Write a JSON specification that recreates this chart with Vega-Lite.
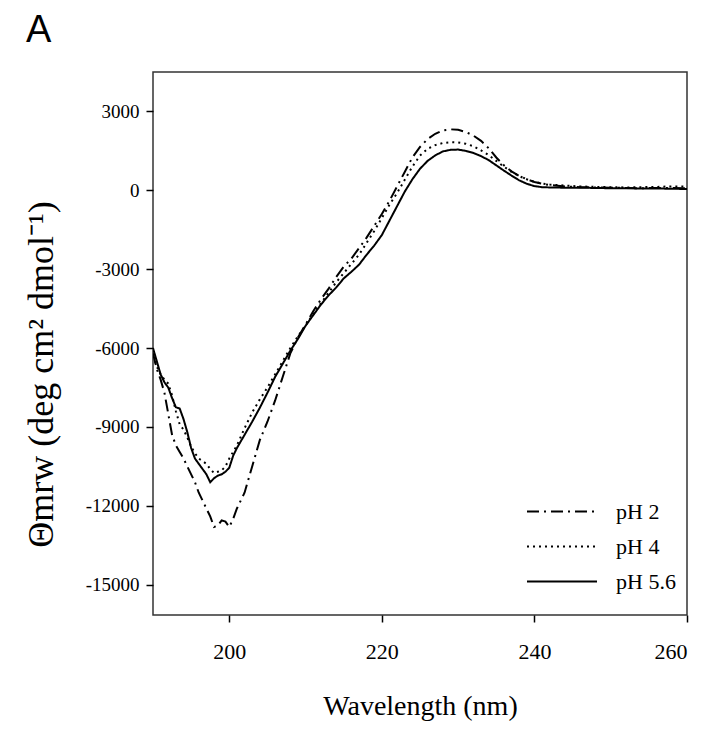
{
  "$schema": "https://vega.github.io/schema/vega-lite/v6.json",
  "autosize": {"type": "none"},
  "padding": {"left": 153, "top": 72, "right": 22, "bottom": 119},
  "width": 534,
  "height": 543,
  "background": "white",
  "title": {"text": "A", "anchor": "start", "frame": "group", "dx": -127, "offset": 22, "font": "Liberation Sans", "fontSize": 38, "fontWeight": "normal", "color": "black"},
  "config": {
    "view": {"stroke": "#333", "strokeWidth": 1.5},
    "axis": {"grid": false, "domain": false, "tickColor": "black", "tickSize": 7, "tickWidth": 1.5, "labelFont": "Liberation Serif", "labelColor": "black", "titleFont": "Liberation Serif", "titleColor": "black", "titleFontWeight": "normal"}
  },
  "datasets": {
    "cd": [
      {"wl":190,"pH":"pH 5.6","v":-6000},{"wl":190.5,"pH":"pH 5.6","v":-6500},{"wl":191,"pH":"pH 5.6","v":-7000},{"wl":191.5,"pH":"pH 5.6","v":-7300},{"wl":192,"pH":"pH 5.6","v":-7500},{"wl":192.5,"pH":"pH 5.6","v":-7900},{"wl":193,"pH":"pH 5.6","v":-8250},{"wl":193.5,"pH":"pH 5.6","v":-8300},{"wl":194,"pH":"pH 5.6","v":-8700},{"wl":194.5,"pH":"pH 5.6","v":-9200},{"wl":195,"pH":"pH 5.6","v":-9800},{"wl":195.5,"pH":"pH 5.6","v":-10200},{"wl":196,"pH":"pH 5.6","v":-10400},{"wl":196.5,"pH":"pH 5.6","v":-10600},{"wl":197,"pH":"pH 5.6","v":-10800},{"wl":197.5,"pH":"pH 5.6","v":-11100},{"wl":198,"pH":"pH 5.6","v":-10950},{"wl":198.5,"pH":"pH 5.6","v":-10850},{"wl":199,"pH":"pH 5.6","v":-10800},{"wl":199.5,"pH":"pH 5.6","v":-10700},{"wl":200,"pH":"pH 5.6","v":-10550},{"wl":200.5,"pH":"pH 5.6","v":-10100},{"wl":201,"pH":"pH 5.6","v":-9800},{"wl":202,"pH":"pH 5.6","v":-9300},{"wl":203,"pH":"pH 5.6","v":-8800},{"wl":204,"pH":"pH 5.6","v":-8270},{"wl":205,"pH":"pH 5.6","v":-7700},{"wl":206,"pH":"pH 5.6","v":-7100},{"wl":207,"pH":"pH 5.6","v":-6600},{"wl":208,"pH":"pH 5.6","v":-6100},{"wl":209,"pH":"pH 5.6","v":-5650},{"wl":210,"pH":"pH 5.6","v":-5150},{"wl":211,"pH":"pH 5.6","v":-4750},{"wl":212,"pH":"pH 5.6","v":-4350},{"wl":213,"pH":"pH 5.6","v":-4000},{"wl":214,"pH":"pH 5.6","v":-3700},{"wl":215,"pH":"pH 5.6","v":-3350},{"wl":216,"pH":"pH 5.6","v":-3100},{"wl":217,"pH":"pH 5.6","v":-2830},{"wl":218,"pH":"pH 5.6","v":-2450},{"wl":219,"pH":"pH 5.6","v":-2100},{"wl":220,"pH":"pH 5.6","v":-1700},{"wl":221,"pH":"pH 5.6","v":-1150},{"wl":222,"pH":"pH 5.6","v":-600},{"wl":223,"pH":"pH 5.6","v":-50},{"wl":224,"pH":"pH 5.6","v":420},{"wl":225,"pH":"pH 5.6","v":820},{"wl":226,"pH":"pH 5.6","v":1120},{"wl":227,"pH":"pH 5.6","v":1330},{"wl":228,"pH":"pH 5.6","v":1480},{"wl":229,"pH":"pH 5.6","v":1540},{"wl":230,"pH":"pH 5.6","v":1550},{"wl":231,"pH":"pH 5.6","v":1500},{"wl":232,"pH":"pH 5.6","v":1420},{"wl":233,"pH":"pH 5.6","v":1300},{"wl":234,"pH":"pH 5.6","v":1150},{"wl":235,"pH":"pH 5.6","v":950},{"wl":236,"pH":"pH 5.6","v":750},{"wl":237,"pH":"pH 5.6","v":560},{"wl":238,"pH":"pH 5.6","v":380},{"wl":239,"pH":"pH 5.6","v":250},{"wl":240,"pH":"pH 5.6","v":160},{"wl":241,"pH":"pH 5.6","v":120},{"wl":242,"pH":"pH 5.6","v":110},{"wl":244,"pH":"pH 5.6","v":100},{"wl":246,"pH":"pH 5.6","v":100},{"wl":248,"pH":"pH 5.6","v":90},{"wl":250,"pH":"pH 5.6","v":80},{"wl":252,"pH":"pH 5.6","v":80},{"wl":254,"pH":"pH 5.6","v":70},{"wl":256,"pH":"pH 5.6","v":70},{"wl":258,"pH":"pH 5.6","v":60},{"wl":260,"pH":"pH 5.6","v":50},

      {"wl":190,"pH":"pH 4","v":-6300},{"wl":190.5,"pH":"pH 4","v":-6700},{"wl":191,"pH":"pH 4","v":-7000},{"wl":191.5,"pH":"pH 4","v":-7200},{"wl":192,"pH":"pH 4","v":-7350},{"wl":192.5,"pH":"pH 4","v":-7800},{"wl":193,"pH":"pH 4","v":-8400},{"wl":193.5,"pH":"pH 4","v":-8900},{"wl":194,"pH":"pH 4","v":-9100},{"wl":194.5,"pH":"pH 4","v":-9400},{"wl":195,"pH":"pH 4","v":-9750},{"wl":195.5,"pH":"pH 4","v":-10000},{"wl":196,"pH":"pH 4","v":-10200},{"wl":196.5,"pH":"pH 4","v":-10300},{"wl":197,"pH":"pH 4","v":-10400},{"wl":197.5,"pH":"pH 4","v":-10600},{"wl":198,"pH":"pH 4","v":-10750},{"wl":198.5,"pH":"pH 4","v":-10700},{"wl":199,"pH":"pH 4","v":-10650},{"wl":199.5,"pH":"pH 4","v":-10500},{"wl":200,"pH":"pH 4","v":-10200},{"wl":201,"pH":"pH 4","v":-9700},{"wl":202,"pH":"pH 4","v":-9050},{"wl":203,"pH":"pH 4","v":-8450},{"wl":204,"pH":"pH 4","v":-7950},{"wl":205,"pH":"pH 4","v":-7500},{"wl":206,"pH":"pH 4","v":-7000},{"wl":207,"pH":"pH 4","v":-6500},{"wl":208,"pH":"pH 4","v":-6000},{"wl":209,"pH":"pH 4","v":-5550},{"wl":210,"pH":"pH 4","v":-5150},{"wl":211,"pH":"pH 4","v":-4700},{"wl":212,"pH":"pH 4","v":-4300},{"wl":213,"pH":"pH 4","v":-3900},{"wl":214,"pH":"pH 4","v":-3500},{"wl":215,"pH":"pH 4","v":-3150},{"wl":216,"pH":"pH 4","v":-2800},{"wl":217,"pH":"pH 4","v":-2450},{"wl":218,"pH":"pH 4","v":-2000},{"wl":219,"pH":"pH 4","v":-1550},{"wl":220,"pH":"pH 4","v":-1050},{"wl":221,"pH":"pH 4","v":-550},{"wl":222,"pH":"pH 4","v":-100},{"wl":223,"pH":"pH 4","v":400},{"wl":224,"pH":"pH 4","v":900},{"wl":225,"pH":"pH 4","v":1320},{"wl":226,"pH":"pH 4","v":1580},{"wl":227,"pH":"pH 4","v":1720},{"wl":228,"pH":"pH 4","v":1800},{"wl":229,"pH":"pH 4","v":1830},{"wl":230,"pH":"pH 4","v":1820},{"wl":231,"pH":"pH 4","v":1770},{"wl":232,"pH":"pH 4","v":1680},{"wl":233,"pH":"pH 4","v":1520},{"wl":234,"pH":"pH 4","v":1340},{"wl":235,"pH":"pH 4","v":1120},{"wl":236,"pH":"pH 4","v":900},{"wl":237,"pH":"pH 4","v":700},{"wl":238,"pH":"pH 4","v":540},{"wl":239,"pH":"pH 4","v":420},{"wl":240,"pH":"pH 4","v":320},{"wl":241,"pH":"pH 4","v":260},{"wl":242,"pH":"pH 4","v":220},{"wl":244,"pH":"pH 4","v":180},{"wl":246,"pH":"pH 4","v":150},{"wl":248,"pH":"pH 4","v":130},{"wl":250,"pH":"pH 4","v":120},{"wl":252,"pH":"pH 4","v":110},{"wl":254,"pH":"pH 4","v":120},{"wl":256,"pH":"pH 4","v":130},{"wl":258,"pH":"pH 4","v":150},{"wl":260,"pH":"pH 4","v":140},

      {"wl":190,"pH":"pH 2","v":-6200},{"wl":190.5,"pH":"pH 2","v":-6800},{"wl":191,"pH":"pH 2","v":-7200},{"wl":191.5,"pH":"pH 2","v":-7700},{"wl":192,"pH":"pH 2","v":-8500},{"wl":192.5,"pH":"pH 2","v":-9300},{"wl":193,"pH":"pH 2","v":-9700},{"wl":193.5,"pH":"pH 2","v":-9950},{"wl":194,"pH":"pH 2","v":-10200},{"wl":194.5,"pH":"pH 2","v":-10500},{"wl":195,"pH":"pH 2","v":-10800},{"wl":195.5,"pH":"pH 2","v":-11100},{"wl":196,"pH":"pH 2","v":-11500},{"wl":196.5,"pH":"pH 2","v":-11800},{"wl":197,"pH":"pH 2","v":-12100},{"wl":197.5,"pH":"pH 2","v":-12400},{"wl":198,"pH":"pH 2","v":-12800},{"wl":198.5,"pH":"pH 2","v":-12750},{"wl":199,"pH":"pH 2","v":-12550},{"wl":199.5,"pH":"pH 2","v":-12600},{"wl":200,"pH":"pH 2","v":-12800},{"wl":200.5,"pH":"pH 2","v":-12500},{"wl":201,"pH":"pH 2","v":-12100},{"wl":202,"pH":"pH 2","v":-11500},{"wl":203,"pH":"pH 2","v":-10500},{"wl":204,"pH":"pH 2","v":-9500},{"wl":205,"pH":"pH 2","v":-8800},{"wl":206,"pH":"pH 2","v":-8000},{"wl":207,"pH":"pH 2","v":-7100},{"wl":208,"pH":"pH 2","v":-6200},{"wl":209,"pH":"pH 2","v":-5600},{"wl":210,"pH":"pH 2","v":-5100},{"wl":211,"pH":"pH 2","v":-4600},{"wl":212,"pH":"pH 2","v":-4150},{"wl":213,"pH":"pH 2","v":-3750},{"wl":214,"pH":"pH 2","v":-3300},{"wl":215,"pH":"pH 2","v":-2900},{"wl":216,"pH":"pH 2","v":-2600},{"wl":217,"pH":"pH 2","v":-2200},{"wl":218,"pH":"pH 2","v":-1800},{"wl":219,"pH":"pH 2","v":-1350},{"wl":220,"pH":"pH 2","v":-900},{"wl":221,"pH":"pH 2","v":-400},{"wl":222,"pH":"pH 2","v":150},{"wl":223,"pH":"pH 2","v":700},{"wl":224,"pH":"pH 2","v":1250},{"wl":225,"pH":"pH 2","v":1650},{"wl":226,"pH":"pH 2","v":1950},{"wl":227,"pH":"pH 2","v":2150},{"wl":228,"pH":"pH 2","v":2280},{"wl":229,"pH":"pH 2","v":2320},{"wl":230,"pH":"pH 2","v":2300},{"wl":231,"pH":"pH 2","v":2220},{"wl":232,"pH":"pH 2","v":2080},{"wl":233,"pH":"pH 2","v":1880},{"wl":234,"pH":"pH 2","v":1600},{"wl":235,"pH":"pH 2","v":1250},{"wl":236,"pH":"pH 2","v":950},{"wl":237,"pH":"pH 2","v":720},{"wl":238,"pH":"pH 2","v":550},{"wl":239,"pH":"pH 2","v":420},{"wl":240,"pH":"pH 2","v":320},{"wl":241,"pH":"pH 2","v":250},{"wl":242,"pH":"pH 2","v":200},{"wl":244,"pH":"pH 2","v":150},{"wl":246,"pH":"pH 2","v":120},{"wl":248,"pH":"pH 2","v":110},{"wl":250,"pH":"pH 2","v":100},{"wl":252,"pH":"pH 2","v":90},{"wl":254,"pH":"pH 2","v":80},{"wl":256,"pH":"pH 2","v":90},{"wl":258,"pH":"pH 2","v":90},{"wl":260,"pH":"pH 2","v":80}
    ]
  },
  "data": {"name": "cd"},
  "mark": {"type": "line", "color": "black", "strokeWidth": 2, "clip": true},
  "encoding": {
    "x": {"field": "wl", "type": "quantitative", "scale": {"domain": [190, 260], "nice": false, "zero": false},
      "axis": {"values": [200, 220, 240, 260], "labelFontSize": 22, "labelPadding": 19, "title": "Wavelength (nm)", "titleFontSize": 28, "titlePadding": 30}},
    "y": {"field": "v", "type": "quantitative", "scale": {"domain": [-16150, 4500], "nice": false, "zero": false},
      "axis": {"values": [-15000, -12000, -9000, -6000, -3000, 0, 3000], "labelExpr": "'' + datum.value", "labelFontSize": 19, "labelPadding": 7, "title": "Θmrw (deg cm² dmol⁻¹)", "titleFontSize": 36, "titleX": -112, "titleY": 302, "titleBaseline": "middle"}},
    "strokeDash": {"field": "pH", "type": "nominal",
      "scale": {"domain": ["pH 2", "pH 4", "pH 5.6"], "range": [[12, 5, 2, 5], [2, 4], [1, 0]]},
      "legend": {"orient": "none", "legendX": 373, "legendY": 423, "title": null, "symbolType": "stroke", "symbolSize": 4900, "symbolStrokeWidth": 2, "symbolStrokeColor": "black", "labelFont": "Liberation Serif", "labelFontSize": 22, "labelColor": "black", "labelOffset": 18, "clipHeight": 33, "rowPadding": 2, "padding": 0}}
  }
}
